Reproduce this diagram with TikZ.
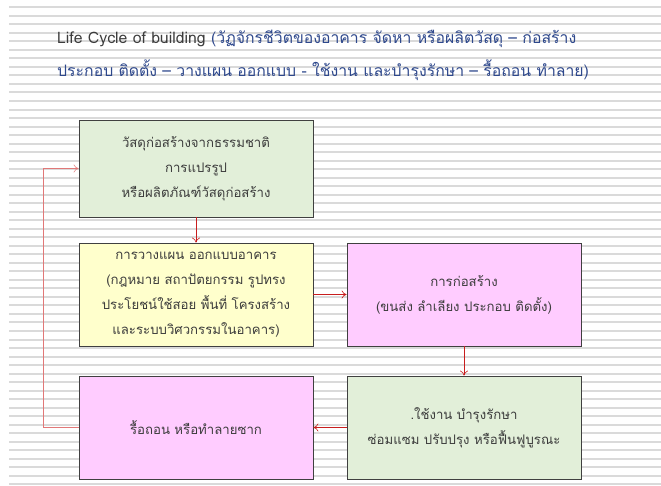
\documentclass[tikz,border=0pt]{standalone}
\usepackage{fontspec}
\newfontfamily\thaifont[Script=Thai]{Loma}
\usetikzlibrary{arrows.meta}
\definecolor{stripe}{RGB}{218,218,218}
\definecolor{boxgreen}{RGB}{226,239,217}
\definecolor{boxyellow}{RGB}{255,255,204}
\definecolor{boxpink}{RGB}{255,204,255}
\definecolor{boxline}{RGB}{64,64,64}
\definecolor{txt}{RGB}{60,60,60}
\definecolor{titleblue}{RGB}{46,72,140}
\definecolor{arrowred}{RGB}{200,30,30}
\definecolor{loopred}{RGB}{225,120,120}
\tikzset{
  stagebox/.style={draw=boxline, line width=0.8pt, minimum width=234pt, minimum height=97pt,
    inner sep=0pt, align=center, text=txt, font=\thaifont\fontsize{13.2}{25}\selectfont},
  flow/.style={draw=arrowred, line width=0.6pt, -{To[length=5pt,width=8pt]}},
  loopflow/.style={draw=loopred, line width=0.5pt, -{To[length=5pt,width=8pt]}},
  titletext/.style={anchor=west, inner sep=0pt, font=\thaifont\fontsize{15.8}{18}\selectfont}
}
\begin{document}
\begin{tikzpicture}[x=1pt,y=-1pt]
\useasboundingbox (0,0) rectangle (661,486);
\fill[white] (0,0) rectangle (661,486);
\foreach \k in {0,...,56} {
  \draw[stripe, line width=2pt] (9,{7.3+\k*8.518}) -- (661,{7.3+\k*8.518});
}
\node[titletext] (t1) at (57,39) {\textcolor{txt}{Life Cycle of building} \textcolor{titleblue}{(วัฏจักรชีวิตของอาคาร จัดหา หรือผลิตวัสดุ – ก่อสร้าง}};
\node[titletext, text=titleblue] (t2) at (57,70) {ประกอบ ติดตั้ง – วางแผน ออกแบบ - ใช้งาน และบำรุงรักษา – รื้อถอน ทำลาย)};

\node[stagebox, fill=boxgreen] (b1) at (196,168.5) {วัสดุก่อสร้างจากธรรมชาติ\\การแปรรูป\\หรือผลิตภัณฑ์วัสดุก่อสร้าง};
\node[stagebox, fill=boxyellow, minimum height=103pt] (b2) at (196,294.5) {การวางแผน ออกแบบอาคาร\\(กฎหมาย สถาปัตยกรรม รูปทรง\\ประโยชน์ใช้สอย พื้นที่ โครงสร้าง\\และระบบวิศวกรรมในอาคาร)};
\node[stagebox, fill=boxpink, minimum height=103pt] (b3) at (464,294.5) {การก่อสร้าง\\(ขนส่ง ลำเลียง ประกอบ ติดตั้ง)};
\node[stagebox, fill=boxgreen, minimum height=103pt] (b5) at (464,427.5) {.ใช้งาน บำรุงรักษา\\ซ่อมแซม ปรับปรุง หรือฟื้นฟูบูรณะ};
\node[stagebox, fill=boxpink, minimum height=103pt] (b4) at (196,427.5) {รื้อถอน หรือทำลายซาก};

\coordinate (c1) at (43.5,427.5);
\coordinate (c2) at (43.5,168.5);
\draw[flow] (b1.south) -- (b2.north);
\draw[flow] (b2.east) -- (b3.west);
\draw[flow] (b3.south) -- (b5.north);
\draw[flow] (b5.west) -- (b4.east);
\draw[loopflow] (b4.west) -- (c1) -- (c2) -- (b1.west);
\end{tikzpicture}
\end{document}
